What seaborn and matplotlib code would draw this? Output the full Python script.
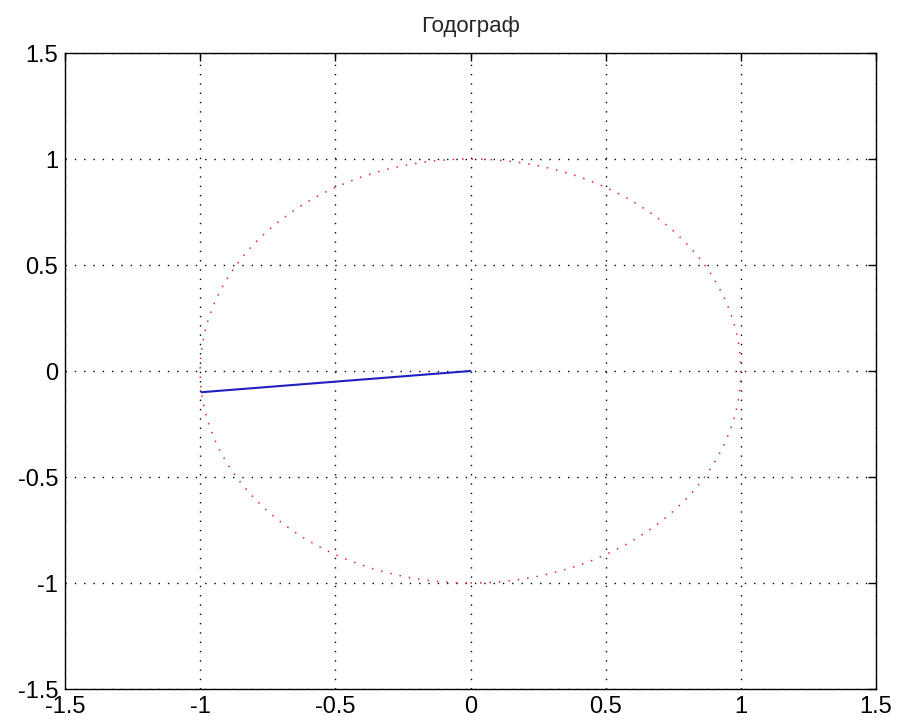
import matplotlib
matplotlib.use("Agg")
import matplotlib.pyplot as plt
import seaborn as sns
import pandas as pd
from matplotlib.patches import Circle

sns.set_style("white")
plt.rcParams['font.family'] = ['Liberation Sans', 'DejaVu Sans']

# hodograph vector (start -> end)
vec_x = [0.0, -0.995]
vec_y = [0.0, -0.1]

# unit circle reference
circle_center = (0.0, 0.0)
circle_radius = 1.0

ticks = [-1.5, -1, -0.5, 0, 0.5, 1, 1.5]
tick_labels = ['-1.5', '-1', '-0.5', '0', '0.5', '1', '1.5']
title = 'Годограф'

df = pd.DataFrame({'x': vec_x, 'y': vec_y})

fig = plt.figure(figsize=(9, 7.27), dpi=100)
ax = fig.add_axes([65 / 900, 1 - 689 / 727, 811 / 900, 636 / 727])

ax.add_patch(Circle(circle_center, circle_radius, fill=False, edgecolor='#e02828',
                    linewidth=1.1, linestyle=(0, (1, 5.2)), zorder=2))
sns.lineplot(data=df, x='x', y='y', ax=ax, color='#2020c0', linewidth=1.5,
             sort=False, estimator=None, zorder=3)

ax.set_xlim(-1.5, 1.5)
ax.set_ylim(-1.5, 1.5)
ax.set_xticks(ticks)
ax.set_xticklabels(tick_labels)
ax.set_yticks(ticks)
ax.set_yticklabels(tick_labels)
ax.grid(True, color='black', linestyle=(0, (1, 5.7)), linewidth=1.0)
ax.tick_params(direction='in', length=6, width=1, colors='black', labelsize=17,
               top=True, right=True, pad=5)
for s in ax.spines.values():
    s.set_color('black')
    s.set_linewidth(1.0)
ax.set_xlabel('')
ax.set_ylabel('')
ax.set_title(title, fontsize=16, pad=15)

fig.savefig('out.png', dpi=100, facecolor='white')
